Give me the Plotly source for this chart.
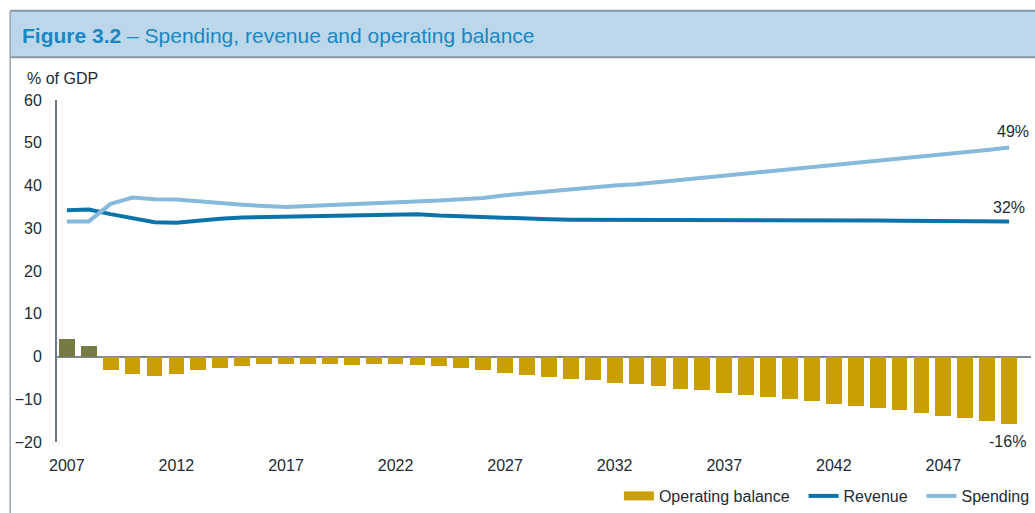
import plotly.graph_objects as go

years = list(range(2007, 2051))

operating_balance = [4.0, 2.4, -3.2, -4.0, -4.5, -4.2, -3.2, -2.8, -2.2, -1.8,
                     -1.8, -1.8, -1.8, -1.9, -1.7, -1.7, -1.9, -2.2, -2.7, -3.2,
                     -3.8, -4.4, -4.8, -5.2, -5.6, -6.2, -6.5, -7.0, -7.5, -7.9,
                     -8.5, -9.0, -9.5, -9.9, -10.5, -11.1, -11.6, -12.1, -12.6, -13.2,
                     -13.8, -14.4, -15.1, -15.8]

revenue = [34.2, 34.4, 33.3, 32.4, 31.4, 31.3, 31.8, 32.2, 32.5, 32.6,
           32.6, 32.7, 32.8, 32.9, 33.1, 33.1, 33.3, 33.0, 32.8, 32.5,
           32.3, 32.2, 32.1, 32.0, 32.0, 32.0, 32.0, 32.0, 31.95, 31.9,
           31.9, 31.9, 31.9, 31.9, 31.85, 31.8, 31.8, 31.8, 31.75, 31.7,
           31.7, 31.7, 31.7, 31.6]

spending = [31.6, 31.6, 35.7, 37.2, 36.8, 36.7, 36.3, 35.8, 35.5, 35.2,
            35.0, 35.2, 35.4, 35.5, 35.7, 36.0, 36.3, 36.5, 36.8, 37.1,
            37.7, 38.2, 38.6, 39.0, 39.5, 40.0, 40.3, 40.8, 41.3, 41.7,
            42.2, 42.7, 43.2, 43.7, 44.2, 44.6, 45.1, 45.6, 46.1, 46.6,
            47.1, 47.7, 48.3, 48.9]

x_ticks = [2007, 2012, 2017, 2022, 2027, 2032, 2037, 2042, 2047]
y_ticks = [-20, -10, 0, 10, 20, 30, 40, 50, 60]

POS = "#767b43"
NEG = "#c8a006"
REV = "#0a74aa"
SPD = "#86b9da"
TXT = "#222a33"
FONT = "Liberation Sans, Arial, sans-serif"
FS = 16

fig = go.Figure()

fig.add_trace(go.Bar(
    x=years, y=operating_balance,
    marker=dict(color=[POS if v > 0 else NEG for v in operating_balance], line=dict(width=0)),
    width=0.72, showlegend=False, name="Operating balance"))

# legend entry for the bars (wide swatch)
fig.add_trace(go.Scatter(x=[None], y=[None], mode="lines", name="Operating balance  ",
                         line=dict(color=NEG, width=9)))

fig.add_trace(go.Scatter(x=years, y=revenue, mode="lines", name="Revenue  ",
                         line=dict(color=REV, width=4)))
fig.add_trace(go.Scatter(x=years, y=spending, mode="lines", name="Spending",
                         line=dict(color=SPD, width=4)))

L, T, R, B = 57, 100, 0, 68
W, H = 1035, 513
pw, ph = W - L - R, H - T - B


def px(xp):
    return (xp - L) / pw


def py(yp):
    return (H - B - yp) / ph


shapes = [
    dict(type="rect", xref="paper", yref="paper", x0=px(10), x1=px(1040), y0=py(57), y1=py(10),
         fillcolor="#bcd7ea", line=dict(width=0), layer="below"),
    dict(type="line", xref="paper", yref="paper", x0=px(10), x1=px(1040), y0=py(10), y1=py(10),
         line=dict(color="#8a96a3", width=2)),
    dict(type="line", xref="paper", yref="paper", x0=px(10), x1=px(1040), y0=py(57), y1=py(57),
         line=dict(color="#8a96a3", width=2)),
    dict(type="line", xref="paper", yref="paper", x0=px(10), x1=px(10), y0=py(10), y1=py(520),
         line=dict(color="#9aa5b0", width=1.5)),
]

annotations = [
    dict(xref="paper", yref="paper", x=px(20), y=py(35), xanchor="left", yanchor="middle",
         showarrow=False,
         text="<b>Figure 3.2</b> – Spending, revenue and operating balance",
         font=dict(family=FONT, size=21, color="#1a87c2")),
    dict(xref="paper", yref="paper", x=px(25), y=py(78), xanchor="left", yanchor="middle",
         showarrow=False, text="% of GDP", font=dict(family=FONT, size=FS, color=TXT)),
    dict(x=years[-1], y=spending[-1], text="49%", showarrow=False, yshift=16, xshift=4,
         font=dict(family=FONT, size=FS, color=TXT)),
    dict(x=years[-1], y=revenue[-1], text="32%", showarrow=False, yshift=14, xshift=0,
         font=dict(family=FONT, size=FS, color=TXT)),
    dict(x=years[-1], y=operating_balance[-1], text="-16%", showarrow=False, yshift=-17, xshift=-2,
         font=dict(family=FONT, size=FS, color=TXT)),
]

fig.update_layout(
    width=W, height=H,
    margin=dict(l=L, r=R, t=T, b=B, pad=0),
    paper_bgcolor="white", plot_bgcolor="white",
    font=dict(family=FONT, size=FS, color=TXT),
    bargap=0,
    shapes=shapes,
    annotations=annotations,
    legend=dict(orientation="h", xanchor="right", x=1.004, yanchor="middle", y=py(500),
                font=dict(family=FONT, size=FS, color=TXT), bgcolor="rgba(0,0,0,0)",
                itemwidth=30, traceorder="normal"),
)

fig.update_xaxes(range=[2006.55, 2051.0], tickvals=x_ticks, ticktext=[str(v) for v in x_ticks],
                 showgrid=False, zeroline=False, showline=False, ticks="",
                 ticklabelstandoff=12, tickfont=dict(size=FS, color=TXT))
fig.update_yaxes(range=[-20, 60], tickvals=y_ticks, showgrid=False,
                 showline=True, linecolor="#6e7c8a", linewidth=2,
                 zeroline=True, zerolinecolor="#7d8a96", zerolinewidth=1.5,
                 ticks="", ticklabelstandoff=10, tickfont=dict(size=FS, color=TXT))

fig.write_html("out.html", config={"displayModeBar": False},
               post_script="document.body.style.margin='0';document.body.style.overflow='hidden';")
